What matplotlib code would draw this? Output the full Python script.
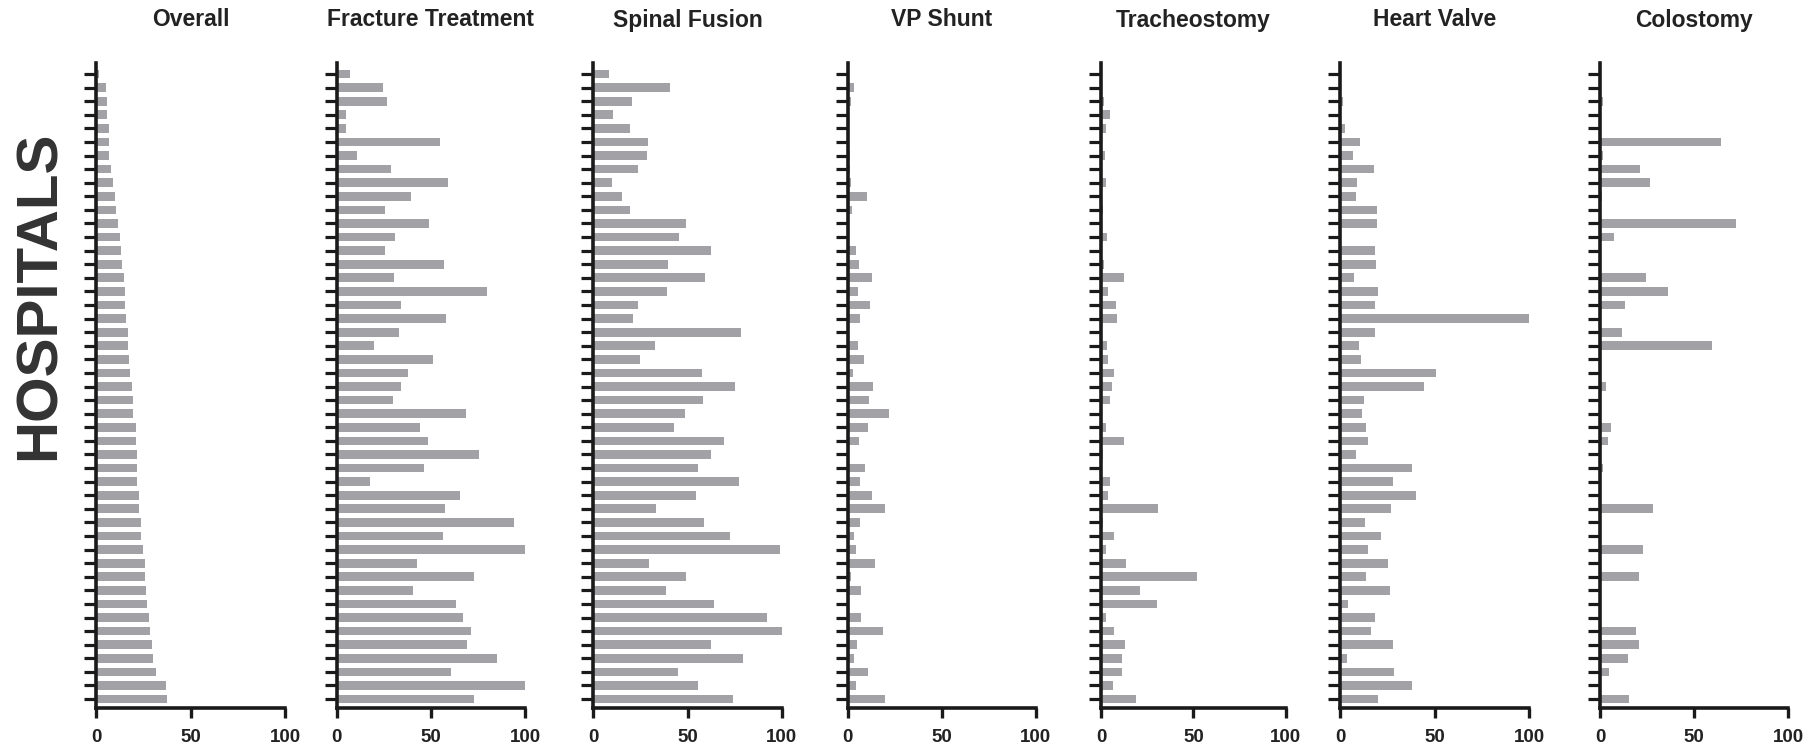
import matplotlib
matplotlib.use("Agg")
import matplotlib.pyplot as plt
import numpy as np

plt.rcParams['font.family'] = ['Liberation Sans', 'DejaVu Sans']

titles = ["Overall", "Fracture Treatment", "Spinal Fusion", "VP Shunt",
          "Tracheostomy", "Heart Valve", "Colostomy"]

overall = [1.5, 5.3, 5.6, 5.6, 6.7, 7.0, 7.0, 8.0, 9.2, 10.2, 10.4, 11.6, 12.7, 13.4,
           13.8, 14.8, 15.2, 15.3, 15.7, 16.9, 17.1, 17.3, 18.2, 19.2, 19.4, 19.4, 21.3,
           21.3, 21.7, 21.7, 21.9, 22.8, 22.8, 23.6, 24.0, 24.9, 25.9, 26.1, 26.3, 27.2,
           28.2, 28.4, 29.6, 30.0, 31.7, 37.2, 37.4]
fracture = [7.1, 24.8, 26.6, 5.0, 5.0, 54.6, 10.6, 29.0, 59.2, 39.7, 25.7, 48.9, 30.7,
            25.9, 57.1, 30.3, 79.8, 33.9, 57.8, 33.0, 20.0, 51.2, 38.1, 34.2, 29.8, 68.8,
            44.3, 48.4, 75.5, 46.3, 17.6, 65.6, 57.6, 94.0, 56.7, 100.0, 42.7, 73.0, 40.4,
            63.5, 67.2, 71.3, 69.1, 85.3, 60.8, 100.0, 73.0]
spinal = [8.1, 40.7, 20.7, 10.3, 19.3, 29.2, 28.3, 23.9, 9.7, 15.0, 19.3, 49.2, 45.3,
          62.3, 39.8, 59.3, 38.9, 23.9, 21.1, 78.4, 32.9, 24.6, 57.9, 75.2, 58.0, 48.8,
          42.7, 69.6, 62.3, 55.4, 77.2, 54.7, 33.5, 58.9, 72.4, 99.3, 29.4, 49.4, 38.6,
          64.1, 92.0, 100.0, 62.7, 79.6, 44.8, 55.6, 74.3]
vp_shunt = [0, 3.2, 1.8, 0, 0, 0, 1.2, 1.4, 2.0, 10.2, 2.3, 0, 0, 4.5, 6.2, 13.0, 5.4,
            11.8, 6.8, 0, 5.7, 8.6, 3.0, 13.6, 11.2, 22.3, 10.7, 6.2, 1.0, 9.5, 6.6,
            13.0, 20.0, 6.8, 3.6, 4.6, 14.8, 1.8, 7.1, 0, 7.1, 19.1, 5.0, 3.6, 10.7, 4.5,
            20.2]
tracheostomy = [0, 0, 1.4, 4.7, 2.7, 0, 2.2, 0, 2.7, 0, 1.1, 0, 3.1, 0, 1.8, 12.3, 4.0,
                8.3, 8.5, 0, 3.2, 3.8, 6.9, 5.8, 4.7, 0, 2.7, 12.3, 1.3, 0, 4.7, 3.8,
                30.7, 1.1, 6.9, 2.9, 13.4, 52.0, 20.9, 30.1, 2.5, 6.9, 13.0, 11.2, 11.4,
                6.5, 18.8]
heart_valve = [0, 0, 1.4, 0, 2.5, 10.4, 6.7, 17.7, 9.0, 8.1, 19.4, 19.4, 0, 18.4, 18.7,
               7.1, 19.8, 18.4, 100.0, 18.4, 10.1, 11.0, 50.7, 44.5, 12.4, 11.5, 13.6,
               14.8, 8.5, 38.2, 28.1, 39.9, 26.7, 13.1, 21.6, 14.5, 25.1, 13.8, 26.5, 4.2,
               18.4, 16.3, 27.9, 3.5, 28.3, 38.0, 19.8]
colostomy = [0, 0, 1.4, 0, 0.7, 64.0, 1.4, 21.2, 26.7, 1.1, 0, 72.2, 7.4, 0, 0.4, 24.4,
             36.3, 13.5, 0, 11.7, 59.3, 0, 0, 3.2, 0, 0, 5.8, 4.4, 0, 1.8, 0, 0, 28.0, 0,
             0, 23.0, 0, 20.5, 0, 0, 0.4, 18.9, 20.7, 14.7, 4.6, 0, 15.6]

series = [overall, fracture, spinal, vp_shunt, tracheostomy, heart_valve, colostomy]
x_ticks = [0, 50, 100]
x_tick_labels = ["0", "50", "100"]

W, H = 1812, 749
fig = plt.figure(figsize=(W / 100, H / 100), dpi=100)

# pixel positions of x=0 and x=100 for each panel
x0_px = [96, 336.7, 593.3, 847.5, 1101, 1340.3, 1600]
x100_px = [285, 525, 781.7, 1035.5, 1285.7, 1529, 1788.3]
top_px, bot_px = 63, 708

bar_color = '#a1a1a6'
ink = '#1a1a1a'

n = len(overall)
ypos = np.arange(n)

for i, (title, vals) in enumerate(zip(titles, series)):
    left = x0_px[i] / W
    width = (x100_px[i] - x0_px[i]) / W
    bottom = 1 - bot_px / H
    height = (bot_px - top_px) / H
    ax = fig.add_axes([left, bottom, width, height])
    ax.barh(ypos, vals, height=0.64, color=bar_color, edgecolor='none', zorder=2)
    ax.set_xlim(0, 100)
    ax.set_ylim(n - 1 + 0.66, -0.81)
    for s in ['top', 'right']:
        ax.spines[s].set_visible(False)
    for s in ['left', 'bottom']:
        ax.spines[s].set_linewidth(2.6)
        ax.spines[s].set_color(ink)
        ax.spines[s].set_zorder(3)
    ax.set_yticks(ypos)
    ax.set_yticklabels([])
    ax.tick_params(axis='y', direction='out', length=8.6, width=2.3, color=ink)
    ax.set_xticks(x_ticks)
    ax.set_xticklabels(x_tick_labels, fontsize=13.5, fontweight='bold', color='#222222')
    ax.tick_params(axis='x', direction='out', length=7, width=2.4, color=ink, pad=8)
    ax.patch.set_alpha(0)
    cx = (x0_px[i] + x100_px[i]) / 2 / W
    fig.text(cx, 1 - 20 / H, title, ha='center', va='center', fontsize=16.5,
             fontweight='bold', color='#222222')

fig.text(40 / W, 1 - 295.5 / H, "HOSPITALS", rotation=90, ha='center', va='center',
         fontsize=42, fontweight='bold', color='#333333')

fig.savefig("out.png", dpi=100)
